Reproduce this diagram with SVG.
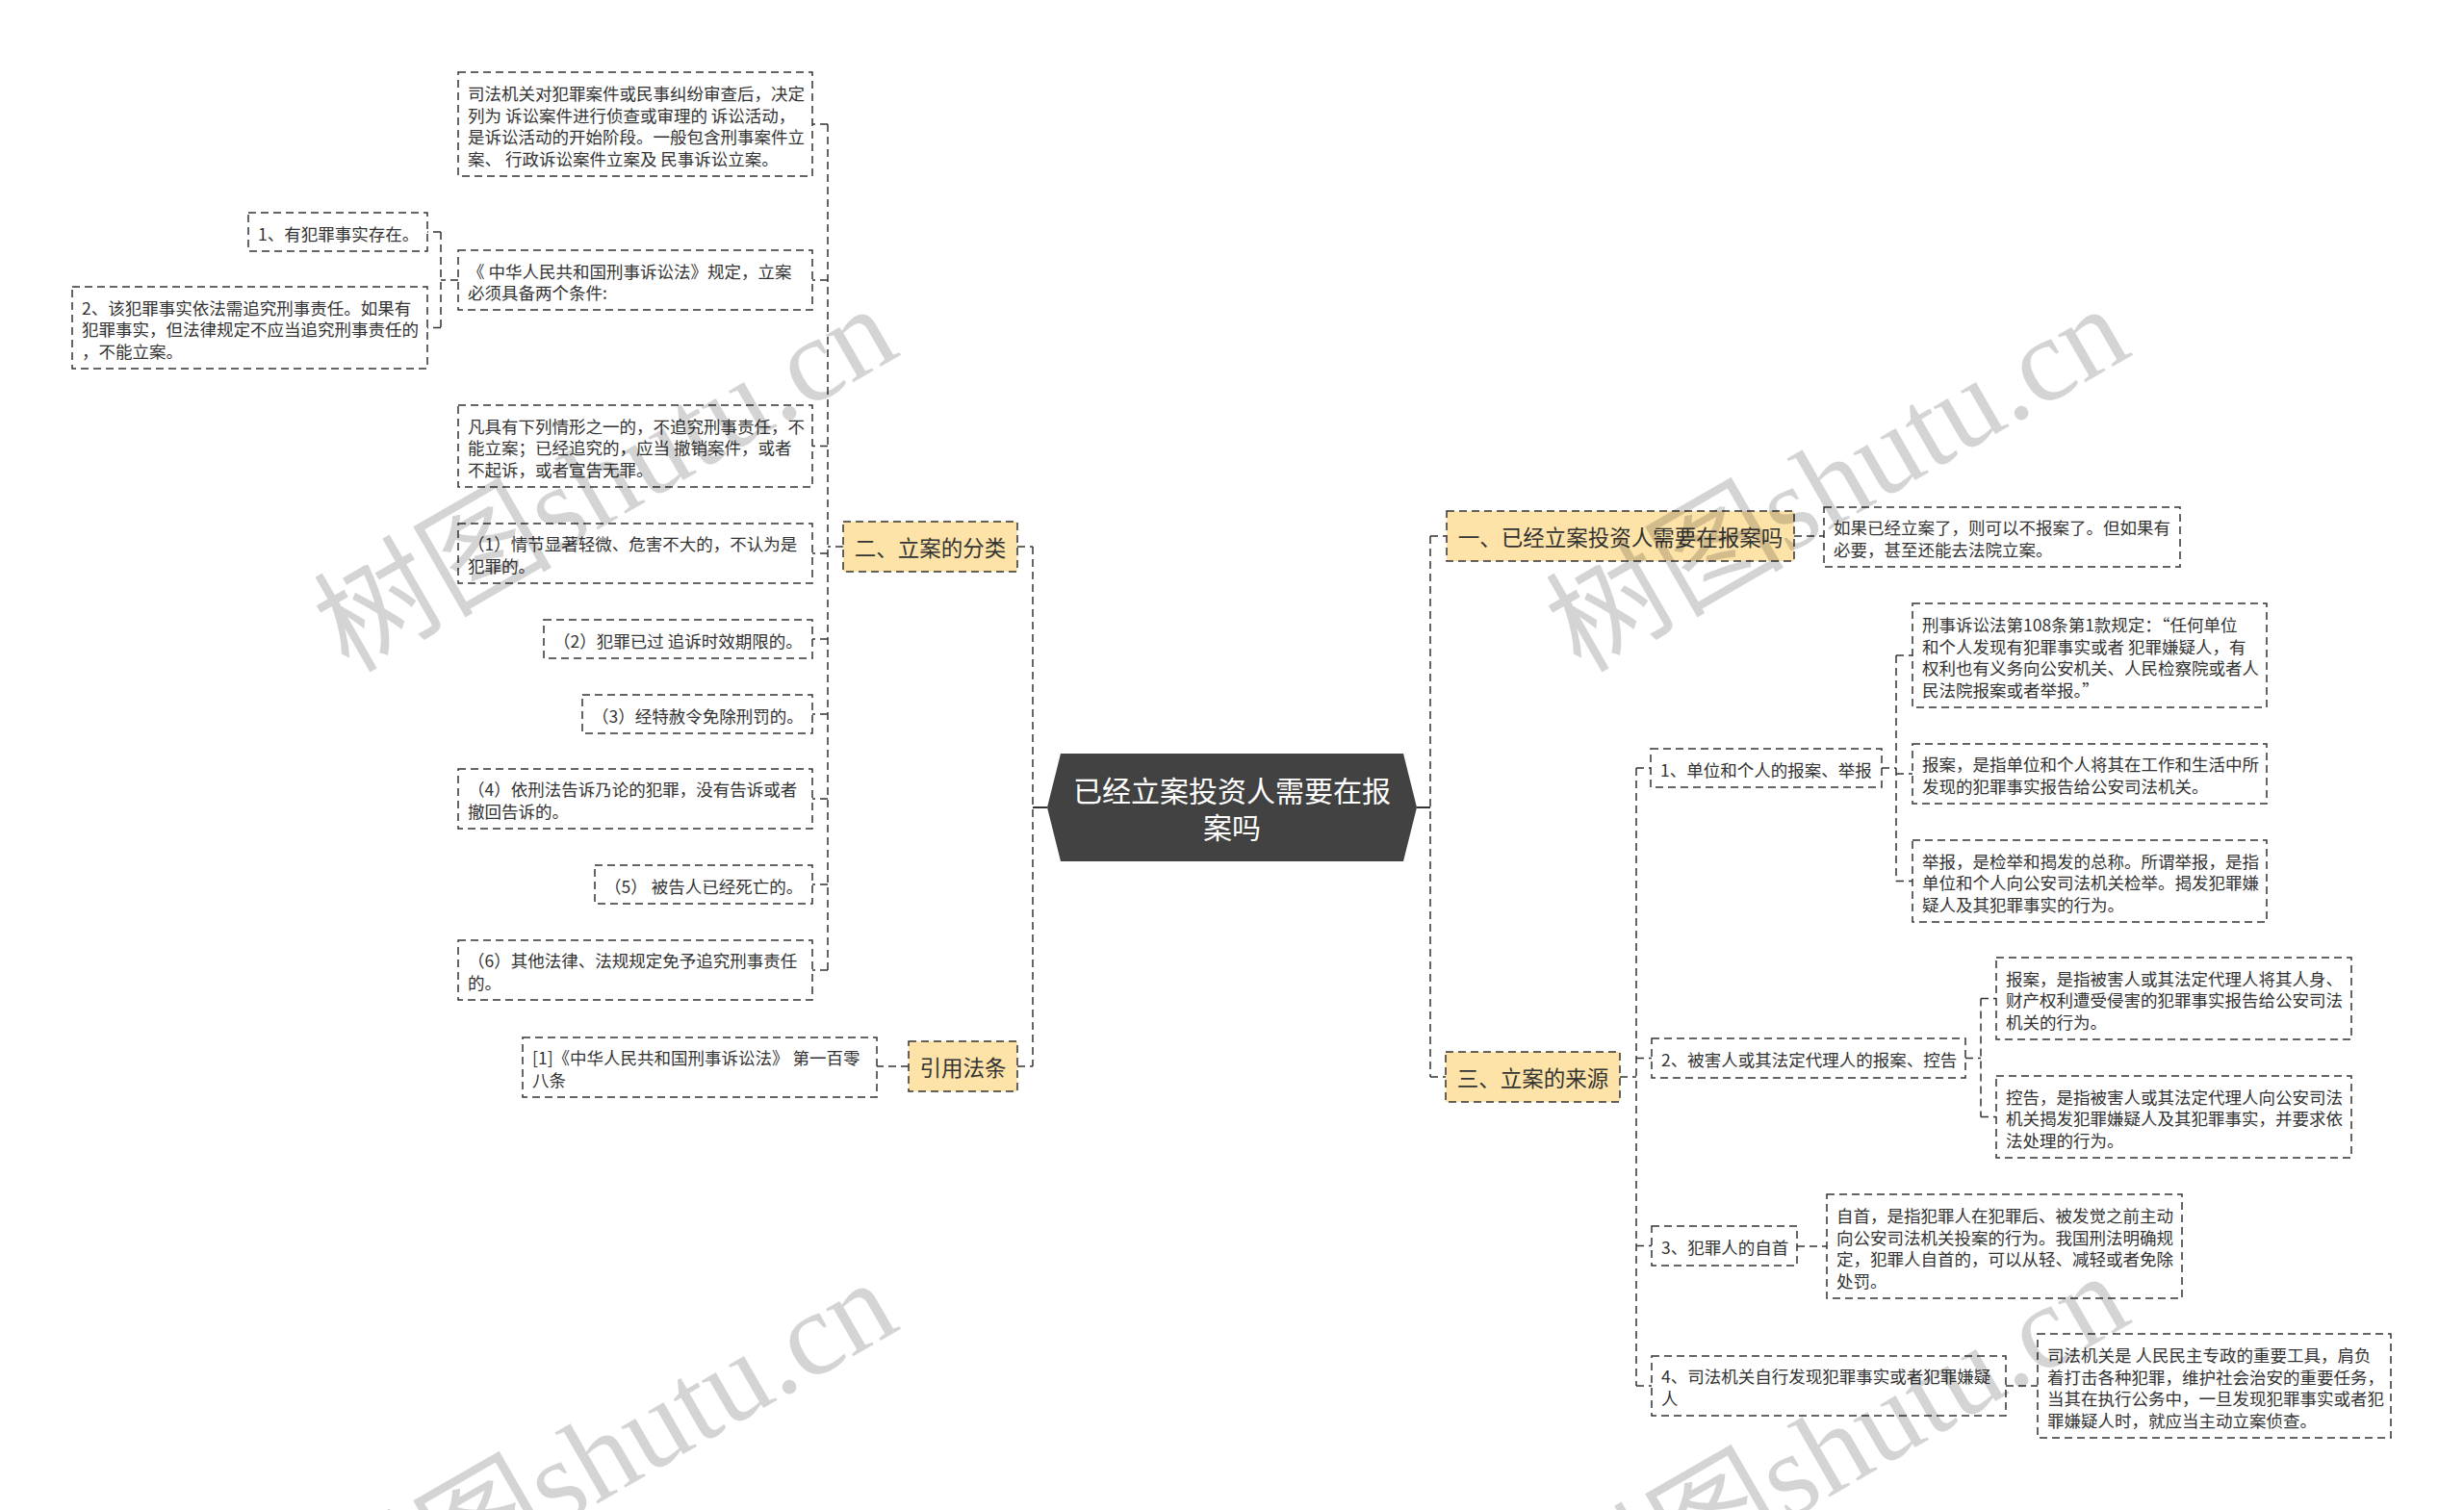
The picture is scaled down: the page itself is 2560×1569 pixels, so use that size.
<svg xmlns="http://www.w3.org/2000/svg" width="2560" height="1569" viewBox="0 0 2560 1569">
<style>
.box{fill:#fff;stroke:#333;stroke-width:1.5;stroke-dasharray:8 5}
.topic{fill:#fde3a8;stroke:#333;stroke-width:1.5;stroke-dasharray:8 5}
.t{font-family:"Noto Sans CJK SC","Noto Sans",sans-serif;font-size:17.5px;fill:#333;dominant-baseline:central}
.tt{font-family:"Noto Sans CJK SC","Noto Sans",sans-serif;font-size:22.5px;fill:#333;dominant-baseline:central;text-anchor:middle}
.ct{font-family:"Noto Sans CJK SC","Noto Sans",sans-serif;font-size:30px;fill:#fff;dominant-baseline:central;text-anchor:middle}
.c{fill:none;stroke:#333;stroke-width:1.5;stroke-dasharray:8 5}
.cs{fill:none;stroke:#333;stroke-width:2}
.wm{font-family:"Liberation Serif","Noto Sans CJK SC",serif;font-size:124px;fill:#000;fill-opacity:0.17}
</style>
<rect width="2560" height="1569" fill="#fff"/>
<g id="connectors">
<path class="cs" d="M1088,839 H1073"/>
<path class="cs" d="M1472,839 H1486"/>
<path class="c" d="M1073,568 V1108"/>
<path class="c" d="M1057,568 H1073"/>
<path class="c" d="M1057,1108 H1073"/>
<path class="c" d="M944,1108 H911"/>
<path class="c" d="M876,568 H860"/>
<path class="c" d="M860,129 V1008"/>
<path class="c" d="M860,129 H844 M860,291 H844 M860,463.5 H844 M860,575 H844 M860,664 H844 M860,742 H844 M860,830 H844 M860,919 H844 M860,1008 H844"/>
<path class="c" d="M476,291 H458 M458,241 V340.5 M458,241 H444 M458,340.5 H444"/>
<path class="c" d="M1486,557 V1119 M1486,557 H1503 M1486,1119 H1502"/>
<path class="c" d="M1864,557 H1895"/>
<path class="c" d="M1683,1119 H1700 M1700,798 V1440 M1700,798 H1715 M1700,1099.5 H1716 M1700,1294.5 H1716 M1700,1440 H1716"/>
<path class="c" d="M1955,798 H1970 M1970,681 V915.5 M1970,681 H1987 M1970,804 H1987 M1970,915.5 H1987"/>
<path class="c" d="M2042,1099.5 H2058 M2058,1037.5 V1160.5 M2058,1037.5 H2074 M2058,1160.5 H2074"/>
<path class="c" d="M1867,1295 H1898"/>
<path class="c" d="M2084,1440 H2117"/>
</g>
<g id="center">
<polygon points="1088,839 1102,783 1458,783 1472,839 1458,895 1102,895" fill="#424242"/>
<text class="ct" x="1280" y="820">已经立案投资人需要在报</text>
<text class="ct" x="1280" y="858">案吗</text>
</g>
<g id="topic-classify">
<rect class="topic" x="876" y="542" width="181" height="52"/>
<text class="tt" x="966.5" y="568">二、立案的分类</text>
</g>
<g id="topic-law">
<rect class="topic" x="944" y="1082" width="113" height="52"/>
<text class="tt" x="1000.5" y="1108">引用法条</text>
</g>
<g id="topic-1">
<rect class="topic" x="1503" y="531" width="361" height="52"/>
<text class="tt" x="1683.5" y="557">一、已经立案投资人需要在报案吗</text>
</g>
<g id="topic-3">
<rect class="topic" x="1502" y="1093" width="181" height="52"/>
<text class="tt" x="1592.5" y="1119">三、立案的来源</text>
</g>
<g id="n-a">
<rect class="box" x="476" y="75" width="368" height="108"/>
<text class="t" x="486" y="96.5">司法机关对犯罪案件或民事纠纷审查后，决定</text>
<text class="t" x="486" y="119">列为 诉讼案件进行侦查或审理的 诉讼活动，</text>
<text class="t" x="486" y="141.5">是诉讼活动的开始阶段。一般包含刑事案件立</text>
<text class="t" x="486" y="164">案、 行政诉讼案件立案及 民事诉讼立案。</text>
</g>
<g id="n-b">
<rect class="box" x="476" y="260" width="368" height="62"/>
<text class="t" x="486" y="281">《 中华人民共和国刑事诉讼法》规定，立案</text>
<text class="t" x="486" y="303.5">必须具备两个条件:</text>
</g>
<g id="n-b1">
<rect class="box" x="258" y="221" width="186" height="40"/>
<text class="t" x="268" y="242">1、有犯罪事实存在。</text>
</g>
<g id="n-b2">
<rect class="box" x="75" y="298" width="369" height="85"/>
<text class="t" x="85" y="319">2、该犯罪事实依法需追究刑事责任。如果有</text>
<text class="t" x="85" y="341.5">犯罪事实，但法律规定不应当追究刑事责任的</text>
<text class="t" x="85" y="364">，不能立案。</text>
</g>
<g id="n-c">
<rect class="box" x="476" y="421" width="368" height="85"/>
<text class="t" x="486" y="442">凡具有下列情形之一的，不追究刑事责任，不</text>
<text class="t" x="486" y="464.5">能立案；已经追究的，应当 撤销案件，或者</text>
<text class="t" x="486" y="487">不起诉，或者宣告无罪。</text>
</g>
<g id="n-d">
<rect class="box" x="476" y="544" width="368" height="62"/>
<text class="t" x="486" y="564.75">（1）情节显著轻微、危害不大的，不认为是</text>
<text class="t" x="486" y="587.25">犯罪的。</text>
</g>
<g id="n-e">
<rect class="box" x="565" y="644" width="279" height="40"/>
<text class="t" x="575" y="665">（2）犯罪已过 追诉时效期限的。</text>
</g>
<g id="n-f">
<rect class="box" x="605" y="722" width="239" height="40"/>
<text class="t" x="615" y="743">（3）经特赦令免除刑罚的。</text>
</g>
<g id="n-g">
<rect class="box" x="476" y="799" width="368" height="62"/>
<text class="t" x="486" y="819.75">（4）依刑法告诉乃论的犯罪，没有告诉或者</text>
<text class="t" x="486" y="842.25">撤回告诉的。</text>
</g>
<g id="n-h">
<rect class="box" x="618" y="899" width="226" height="40"/>
<text class="t" x="628" y="920">（5） 被告人已经死亡的。</text>
</g>
<g id="n-i">
<rect class="box" x="476" y="977" width="368" height="62"/>
<text class="t" x="486" y="997.75">（6）其他法律、法规规定免予追究刑事责任</text>
<text class="t" x="486" y="1020.25">的。</text>
</g>
<g id="n-j">
<rect class="box" x="543" y="1078" width="368" height="62"/>
<text class="t" x="553" y="1098.75">[1]《中华人民共和国刑事诉讼法》 第一百零</text>
<text class="t" x="553" y="1121.25">八条</text>
</g>
<g id="n-r1a">
<rect class="box" x="1895" y="527" width="370" height="62"/>
<text class="t" x="1905" y="547.75">如果已经立案了，则可以不报案了。但如果有</text>
<text class="t" x="1905" y="570.25">必要，甚至还能去法院立案。</text>
</g>
<g id="n-s1">
<rect class="box" x="1715" y="778" width="240" height="40"/>
<text class="t" x="1725" y="799">1、单位和个人的报案、举报</text>
</g>
<g id="n-s1a">
<rect class="box" x="1987" y="627" width="368" height="108"/>
<text class="t" x="1997" y="648.5">刑事诉讼法第108条第1款规定：“任何单位</text>
<text class="t" x="1997" y="671">和个人发现有犯罪事实或者 犯罪嫌疑人，有</text>
<text class="t" x="1997" y="693.5">权利也有义务向公安机关、人民检察院或者人</text>
<text class="t" x="1997" y="716">民法院报案或者举报。”</text>
</g>
<g id="n-s1b">
<rect class="box" x="1987" y="773" width="368" height="62"/>
<text class="t" x="1997" y="793.75">报案，是指单位和个人将其在工作和生活中所</text>
<text class="t" x="1997" y="816.25">发现的犯罪事实报告给公安司法机关。</text>
</g>
<g id="n-s1c">
<rect class="box" x="1987" y="873" width="368" height="85"/>
<text class="t" x="1997" y="894">举报，是检举和揭发的总称。所谓举报，是指</text>
<text class="t" x="1997" y="916.5">单位和个人向公安司法机关检举。揭发犯罪嫌</text>
<text class="t" x="1997" y="939">疑人及其犯罪事实的行为。</text>
</g>
<g id="n-s2">
<rect class="box" x="1716" y="1079" width="326" height="41"/>
<text class="t" x="1726" y="1100.5">2、被害人或其法定代理人的报案、控告</text>
</g>
<g id="n-s2a">
<rect class="box" x="2074" y="995" width="369" height="85"/>
<text class="t" x="2084" y="1016">报案，是指被害人或其法定代理人将其人身、</text>
<text class="t" x="2084" y="1038.5">财产权利遭受侵害的犯罪事实报告给公安司法</text>
<text class="t" x="2084" y="1061">机关的行为。</text>
</g>
<g id="n-s2b">
<rect class="box" x="2074" y="1118" width="369" height="85"/>
<text class="t" x="2084" y="1139">控告，是指被害人或其法定代理人向公安司法</text>
<text class="t" x="2084" y="1161.5">机关揭发犯罪嫌疑人及其犯罪事实，并要求依</text>
<text class="t" x="2084" y="1184">法处理的行为。</text>
</g>
<g id="n-s3">
<rect class="box" x="1716" y="1274" width="151" height="41"/>
<text class="t" x="1726" y="1295.5">3、犯罪人的自首</text>
</g>
<g id="n-s3a">
<rect class="box" x="1898" y="1241" width="369" height="108"/>
<text class="t" x="1908" y="1262.5">自首，是指犯罪人在犯罪后、被发觉之前主动</text>
<text class="t" x="1908" y="1285">向公安司法机关投案的行为。我国刑法明确规</text>
<text class="t" x="1908" y="1307.5">定，犯罪人自首的，可以从轻、减轻或者免除</text>
<text class="t" x="1908" y="1330">处罚。</text>
</g>
<g id="n-s4">
<rect class="box" x="1716" y="1409" width="368" height="62"/>
<text class="t" x="1726" y="1429.75">4、司法机关自行发现犯罪事实或者犯罪嫌疑</text>
<text class="t" x="1726" y="1452.25">人</text>
</g>
<g id="n-s4a">
<rect class="box" x="2117" y="1386" width="367" height="108"/>
<text class="t" x="2127" y="1407.5">司法机关是 人民民主专政的重要工具，肩负</text>
<text class="t" x="2127" y="1430">着打击各种犯罪，维护社会治安的重要任务，</text>
<text class="t" x="2127" y="1452.5">当其在执行公务中，一旦发现犯罪事实或者犯</text>
<text class="t" x="2127" y="1475">罪嫌疑人时，就应当主动立案侦查。</text>
</g>
<g id="watermarks">
<text class="wm" transform="translate(362,700) rotate(-30)">树图shutu.cn</text>
<text class="wm" transform="translate(1642,700) rotate(-30)">树图shutu.cn</text>
<text class="wm" transform="translate(362,1712) rotate(-30)">树图shutu.cn</text>
<text class="wm" transform="translate(1642,1705) rotate(-30)">树图shutu.cn</text>
</g>
</svg>
